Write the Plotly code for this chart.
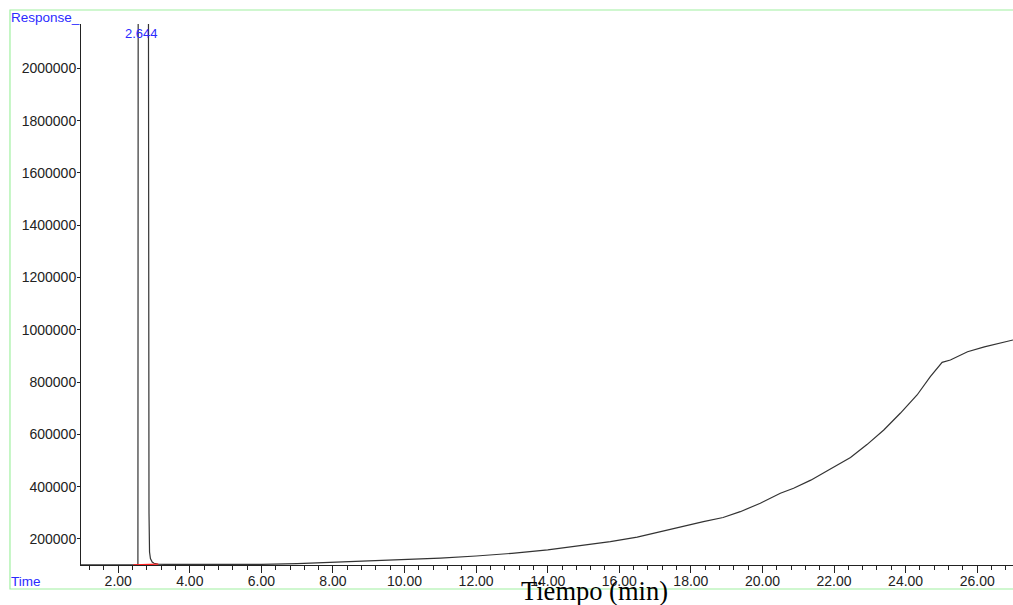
import plotly.graph_objects as go

# Chromatogram trace (time in min, response)
times = [0.96, 1.5, 2.0, 2.42, 2.55, 2.56, 2.644, 2.83, 2.84, 2.86, 2.875, 2.9, 2.95, 3.0, 3.1, 3.3,
         4.0, 5.0, 6.0, 7.0, 8.0, 9.0, 10.0, 11.0, 12.0, 13.0, 14.0, 14.35, 15.0, 15.75, 16.5,
         17.14, 17.5, 17.89, 18.35, 18.9, 19.38, 19.94, 20.5, 20.87, 21.35, 21.8, 22.15, 22.46,
         22.92, 23.39, 23.85, 24.32, 24.69, 24.88, 25.02, 25.25, 25.53, 25.73, 26.2, 26.6, 27.0]
response = [101000, 101000, 101000, 101000, 101500, 2900000, 3000000, 2900000, 2800000, 300000,
            150000, 125000, 112000, 107000, 104000, 103000,
            102500, 102500, 103000, 106000, 111000, 115000, 120000, 127000, 135000, 145000,
            158000, 164400, 175000, 189700, 207000,
            228000, 239000, 253500, 266200, 282000, 304400, 336500, 374800, 393900, 425000,
            460000, 486000, 512000, 561000, 617000, 680700, 750700, 820600, 852700, 875700,
            884500, 903600, 916000, 935000, 947000, 961000]

# Integration baseline under the peak
base_t = [2.42, 3.12]
base_v = [101000, 103500]

peak_rt = 2.644
peak_label = "2.644"

y_ticks = [200000, 400000, 600000, 800000, 1000000, 1200000, 1400000, 1600000, 1800000, 2000000]

fig = go.Figure()
fig.add_trace(go.Scatter(x=times, y=response, mode="lines",
                         line=dict(color="#333333", width=1.2), showlegend=False))
fig.add_trace(go.Scatter(x=base_t, y=base_v, mode="lines",
                         line=dict(color="#ff2020", width=1.2), showlegend=False))

blue = "#2b2bff"
fig.add_annotation(x=peak_rt, y=2135000, xref="x", yref="y", text=peak_label,
                   showarrow=False, font=dict(family="Liberation Sans", size=13, color=blue),
                   xanchor="center", yanchor="middle")
fig.add_annotation(x=-0.0773, y=1.0129, xref="paper", yref="paper", text="Response_",
                   showarrow=False, font=dict(family="Liberation Sans", size=13.5, color=blue),
                   xanchor="left", yanchor="middle")
fig.add_annotation(x=-0.0773, y=-0.0296, xref="paper", yref="paper", text="Time",
                   showarrow=False, font=dict(family="Liberation Sans", size=13.5, color=blue),
                   xanchor="left", yanchor="middle")
fig.add_annotation(x=0.5515, y=-0.048, xref="paper", yref="paper", text="Tiempo (min)",
                   showarrow=False, font=dict(family="Liberation Serif", size=26.5, color="black"),
                   xanchor="center", yanchor="middle")

# green frame
fig.add_shape(type="rect", xref="paper", yref="paper", x0=-0.0762, x1=1.02, y0=-0.0444, y1=1.0259,
              line=dict(color="#a0f0a0", width=1.2), fillcolor="rgba(0,0,0,0)", layer="below")

fig.update_xaxes(range=[0.96, 27.0], showgrid=False, zeroline=False, showline=True,
                 linecolor="#222222", linewidth=1, ticks="outside", ticklen=7, tickcolor="#222222",
                 dtick=2, tick0=0, tickformat=".2f", ticklabelstandoff=-4,
                 tickfont=dict(family="Liberation Sans", size=14, color="#222222"),
                 minor=dict(dtick=0.4, tick0=0, ticks="outside", ticklen=4, tickcolor="#222222"))
fig.update_yaxes(range=[100500, 2169500], showgrid=False, zeroline=False, showline=True,
                 linecolor="#222222", linewidth=1, ticks="outside", ticklen=3, tickcolor="#222222",
                 tickvals=y_ticks, tickformat="d", ticklabelstandoff=-2,
                 tickfont=dict(family="Liberation Sans", size=14, color="#222222"))

fig.update_layout(width=1013, height=605, margin=dict(l=81, r=0, t=24, b=40),
                  paper_bgcolor="white", plot_bgcolor="white", showlegend=False)

fig.write_html("out.html", config={"displayModeBar": False},
               post_script="document.body.style.margin='0';document.body.style.overflow='hidden';")
